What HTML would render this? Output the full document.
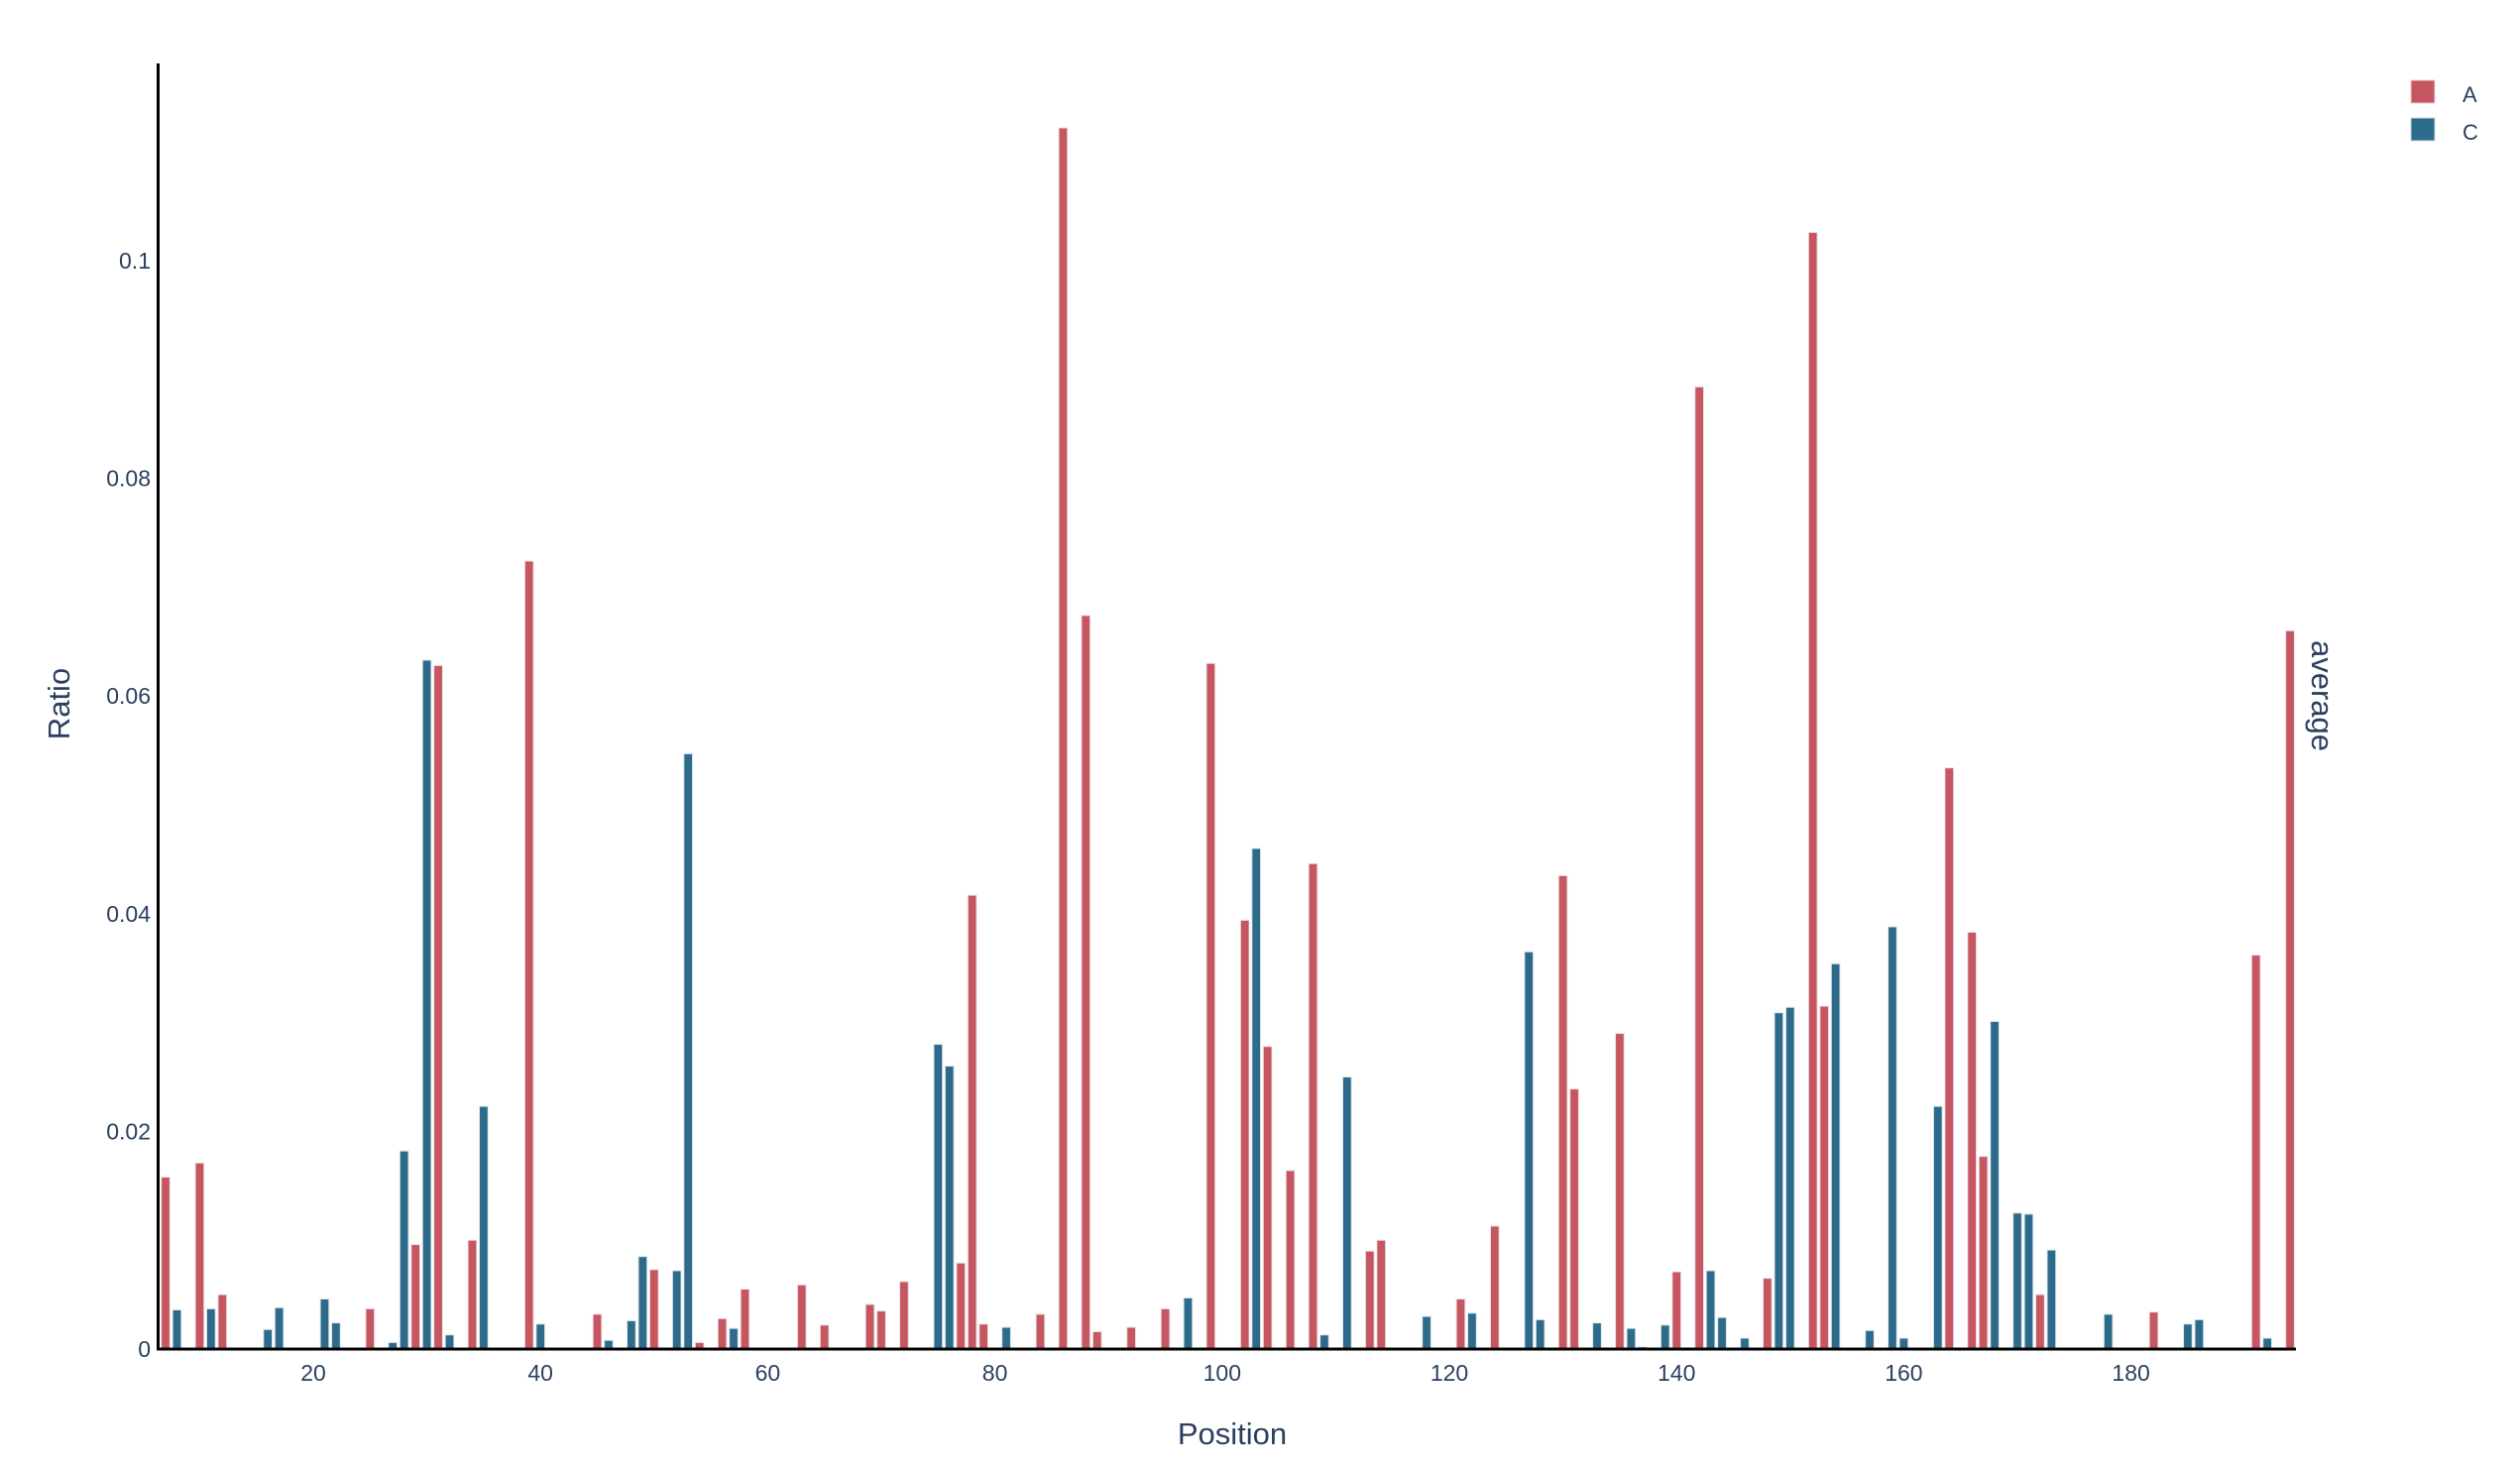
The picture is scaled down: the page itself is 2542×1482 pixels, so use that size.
<!DOCTYPE html>
<html><head><meta charset="utf-8"><style>
html,body{margin:0;padding:0;background:#fff;}
svg{display:block;font-family:"Liberation Sans","DejaVu Sans",sans-serif;}
</style></head><body>
<svg id="chart" width="2542" height="1482" viewBox="0 0 2542 1482" xmlns="http://www.w3.org/2000/svg">
<g id="bars"></g>
<g id="yticks"></g>
<g id="xticks"></g>
<line x1="159.5" y1="64" x2="159.5" y2="1362" stroke="#000" stroke-width="3"/>
<line x1="158" y1="1361" x2="2316" y2="1361" stroke="#000" stroke-width="3"/>
<text transform="translate(70,710) rotate(-90)" text-anchor="middle" font-size="31" fill="#2a3f5f">Ratio</text>
<text x="1243" y="1457" text-anchor="middle" font-size="31" fill="#2a3f5f">Position</text>
<text transform="translate(2332,646) rotate(90)" text-anchor="start" font-size="31" fill="#2a3f5f">average</text>
<g>
<g><rect x="2432" y="81" width="24" height="23" fill="#c65660" stroke="#e8d0d4" stroke-width="1"/><text x="2484" y="103" font-size="22" fill="#2a3f5f">A</text></g>
<g><rect x="2432" y="119" width="24" height="23" fill="#2e6b8a" stroke="#c8d8e4" stroke-width="1"/><text x="2484" y="141" font-size="22" fill="#2a3f5f">C</text></g>
</g>
</svg>
<script>
const posA = [7,10,12,25,29,31,34,39,45,50,54,56,58,63,65,69,70,72,77,78,79,84,86,88,89,92,95,99,102,104,106,108,113,114,121,124,130,131,135,140,142,148,152,153,164,166,167,172,182,191,194];
const valA = [0.0158,0.0171,0.0050,0.0037,0.0096,0.0628,0.0100,0.0724,0.0032,0.0073,0.0006,0.0028,0.0055,0.0059,0.0022,0.0041,0.0035,0.0062,0.0079,0.0417,0.0023,0.0032,0.1122,0.0674,0.0016,0.0020,0.0037,0.0630,0.0394,0.0278,0.0164,0.0446,0.0090,0.0100,0.0046,0.0113,0.0435,0.0239,0.0290,0.0071,0.0884,0.0065,0.1026,0.0315,0.0534,0.0383,0.0177,0.0050,0.0034,0.0362,0.0660];
const posC = [8,11,16,17,21,22,27,28,30,32,35,40,46,48,49,52,53,57,75,76,81,97,103,109,111,118,122,127,128,133,136,137,139,143,144,146,149,150,154,157,159,160,163,168,170,171,173,178,185,186,192];
const valC = [0.0036,0.0037,0.0018,0.0038,0.0046,0.0024,0.0006,0.0182,0.0633,0.0013,0.0223,0.0023,0.0008,0.0026,0.0085,0.0072,0.0547,0.0019,0.0280,0.0260,0.0020,0.0047,0.0460,0.0013,0.0250,0.0030,0.0033,0.0365,0.0027,0.0024,0.0019,0.0002,0.0022,0.0072,0.0029,0.0010,0.0309,0.0314,0.0354,0.0017,0.0388,0.0010,0.0223,0.0301,0.0125,0.0124,0.0091,0.0032,0.0023,0.0027,0.0010];
const yTicks = [0,0.02,0.04,0.06,0.08,0.1];
const yTickLabels = ["0","0.02","0.04","0.06","0.08","0.1"];
const xTicks = [20,40,60,80,100,120,140,160,180];

const NS = "http://www.w3.org/2000/svg";
function xs(p){ return 316 + (p - 20) * 11.46; }
function ys(v){ return 1361 - v * 10980; }
const barW = 0.76 * 11.46;
const gb = document.getElementById('bars');
function drawSeries(pos, val, color, stroke, name){
  for (let i = 0; i < pos.length; i++){
    const r = document.createElementNS(NS, 'rect');
    
    
    const y = ys(val[i]);
    r.setAttribute('x', xs(pos[i]) - barW/2);
    r.setAttribute('y', y);
    r.setAttribute('width', barW);
    r.setAttribute('height', Math.max(0, 1361 - y));
    r.setAttribute('fill', color);
    r.setAttribute('stroke', stroke);
    r.setAttribute('stroke-width', '1');
    gb.appendChild(r);
  }
}
drawSeries(posA, valA, '#c65660', '#ecdfe3', 'a');
drawSeries(posC, valC, '#2e6b8a', '#dbe6ee', 'c');

const gy = document.getElementById('yticks');
for (let i = 0; i < yTicks.length; i++){
  const t = document.createElementNS(NS, 'text');
  
  
  t.setAttribute('x', 152);
  t.setAttribute('y', ys(yTicks[i]) + 8);
  t.setAttribute('text-anchor', 'end');
  t.setAttribute('font-size', '23');
  t.setAttribute('fill', '#2a3f5f');
  t.textContent = yTickLabels[i];
  gy.appendChild(t);
}
const gx = document.getElementById('xticks');
for (let i = 0; i < xTicks.length; i++){
  const t = document.createElementNS(NS, 'text');
  
  
  t.setAttribute('x', xs(xTicks[i]));
  t.setAttribute('y', 1393);
  t.setAttribute('text-anchor', 'middle');
  t.setAttribute('font-size', '23');
  t.setAttribute('fill', '#2a3f5f');
  t.textContent = String(xTicks[i]);
  gx.appendChild(t);
}
</script>
</body></html>
